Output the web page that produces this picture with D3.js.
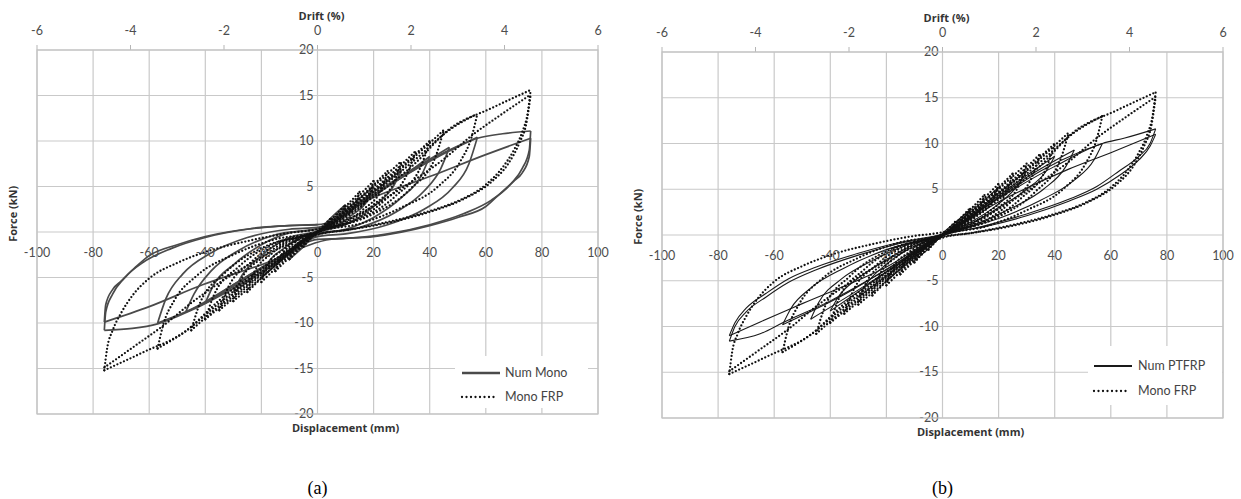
<!DOCTYPE html>
<html>
<head>
    <title>Force - displacement hysteresis</title>
    <style>
        body { margin: 0; background: #fff; }
        svg { display: block; }
        .tick { font: 12.5px Lato, "Open Sans", sans-serif; fill: #4d4d4d; }
        .title { font: bold 11px "Open Sans", Lato, sans-serif; fill: #333; }
        .caption { font: 18px "Liberation Serif", "DejaVu Serif", serif; fill: #000; }
        .legend { font: 12.5px Lato, "Open Sans", sans-serif; fill: #444; }
    </style>
</head>
<body>
<div id="chart"></div>
<script src="https://d3js.org/d3.v7.min.js"></script>
<script>
    // axis values
    const dispTicks = [-100, -80, -60, -40, -20, 0, 20, 40, 60, 80, 100];
    const forceTicks = [-20, -15, -10, -5, 0, 5, 10, 15, 20];
    const driftTicks = [-6, -4, -2, 0, 2, 4, 6];

    // experimental curve, same in both panels (displacement mm, force kN)
    const monoFRP = [
        [0, 0], [5, 1.6], [4, 0.9], [0, 0], [-5, -1.6], [-4, -0.9], [0, 0],
        [5, 1.4], [10, 3], [9, 2], [5, 0.8], [0, 0], [-5, -1.4], [-10, -3], [-9, -2], [-5, -0.8], [0, 0],
        [5, 1.3], [10, 2.8], [15, 4.4], [13.5, 3], [9, 1.5], [4, 0.4], [0, 0],
        [-5, -1.3], [-10, -2.8], [-15, -4.3], [-13.5, -2.9], [-9, -1.4], [-4, -0.3], [0, 0],
        [10, 2.6], [20, 5.6], [18, 3.8], [12, 2], [5, 0.6], [0, 0],
        [-10, -2.6], [-20, -5.5], [-18, -3.7], [-12, -1.9], [-5, -0.5], [0, 0],
        [10, 2.4], [18, 4.6], [25, 6.7], [23, 4.8], [16, 2.4], [7, 0.7], [0, 0],
        [-10, -2.4], [-18, -4.5], [-25, -6.6], [-23, -4.7], [-16, -2.3], [-7, -0.6], [0, 0],
        [10, 2.3], [20, 5], [30, 7.8], [27.5, 5.6], [20, 3], [10, 1], [0, 0],
        [-10, -2.3], [-20, -5], [-30, -7.6], [-27.5, -5.4], [-20, -2.9], [-10, -0.9], [0, 0],
        [12, 2.7], [25, 6], [35, 8.9], [32, 6.4], [24, 3.5], [12, 1.1], [0, 0],
        [-12, -2.7], [-25, -6], [-35, -8.6], [-32, -6.2], [-24, -3.4], [-12, -1], [0, 0],
        [12, 2.6], [25, 5.8], [40, 10], [37, 7.3], [28, 4], [15, 1.4], [0, 0],
        [-12, -2.6], [-25, -5.8], [-40, -9.6], [-37, -7], [-28, -3.8], [-15, -1.2], [0, 0],
        [15, 3.2], [30, 7], [45, 11.2], [42, 8.2], [33, 4.7], [18, 1.7], [0, 0],
        [-15, -3.2], [-30, -6.8], [-45, -10.8], [-42, -7.9], [-33, -4.5], [-18, -1.5], [0, 0],
        [15, 3], [35, 8], [47, 11.2], [57, 13], [55, 10.5], [51, 7.8], [43, 5], [30, 2.7], [15, 0.9], [0, 0],
        [-15, -3], [-35, -7.8], [-47, -10.9], [-57, -12.8], [-55, -10.2], [-51, -7.5], [-43, -4.8], [-30, -2.5], [-15, -0.8], [0, 0],
        [15, 2.8], [35, 7.6], [47, 11.3], [62, 13.6], [76, 15.6], [75, 13.2], [73, 11], [70, 9], [66, 7.1], [60, 5.2],
        [50, 3.4], [40, 2.3], [25, 1.1], [10, 0.2], [0, -0.3],
        [-15, -3], [-35, -7.5], [-47, -10.9], [-62, -13.2], [-76, -15.2], [-75, -12.8], [-73, -10.8], [-70, -8.9],
        [-66, -7], [-60, -5.1], [-50, -3.4], [-40, -2.2], [-25, -1], [-10, -0.1], [0, 0.3],
        [15, 2], [30, 4.8], [45, 8], [55, 10.6], [65, 12.8], [76, 15.1], [74.5, 12], [72, 9.8], [68, 7.5], [62, 5.5],
        [52, 3.6], [40, 2.2], [25, 1], [10, 0.2], [0, -0.2],
        [-15, -2], [-30, -4.6], [-45, -7.8], [-55, -10.3], [-65, -12.5], [-76, -14.9]
    ];

    // numerical curve, panel (a)
    const numMono = [
        [0, 0], [5, 1.6], [10, 3], [9, 2.2], [5, 0.8], [0, 0], [-5, -1.6], [-10, -3], [-9, -2.2], [-5, -0.8], [0, 0],
        [10, 2.4], [20, 5], [18, 3.6], [12, 1.8], [5, 0.4], [0, 0],
        [-10, -2.4], [-20, -5], [-18, -3.6], [-12, -1.8], [-5, -0.4], [0, 0],
        [10, 2.2], [20, 4.4], [30, 6.8], [27, 5], [20, 2.8], [10, 0.8], [0, -0.1],
        [-10, -2.2], [-20, -4.4], [-30, -6.6], [-27, -4.8], [-20, -2.6], [-10, -0.6], [0, 0.1],
        [15, 3], [30, 6], [40, 8.3], [37, 6.2], [30, 3.8], [20, 1.6], [10, 0.3], [0, -0.2],
        [-15, -3], [-30, -5.8], [-40, -7.8], [-37, -5.8], [-30, -3.6], [-20, -1.4], [-10, -0.1], [0, 0.3],
        [15, 3], [30, 6.2], [40, 8], [47, 9.3], [44, 7], [38, 4.5], [28, 2.2], [15, 0.5], [0, -0.3],
        [-15, -3], [-30, -6], [-40, -7.8], [-47, -8.8], [-44, -6.8], [-38, -4.3], [-28, -2], [-15, -0.3], [0, 0.4],
        [15, 3], [30, 6], [45, 8.6], [57, 10.4], [54, 7.5], [48, 4.8], [38, 2.5], [25, 0.8], [10, -0.2], [0, -0.5],
        [-15, -3], [-30, -5.8], [-45, -8.5], [-57, -10], [-54, -7.3], [-48, -4.6], [-38, -2.3], [-25, -0.6], [-10, 0.3], [0, 0.5],
        [15, 3.2], [30, 6], [45, 8.7], [57, 10.3], [66, 10.8], [76, 11.1], [75.5, 9], [73, 7], [69, 5.3], [62, 3.5],
        [52, 2], [40, 0.8], [25, -0.2], [10, -0.7], [0, -0.8],
        [-15, -3.5], [-30, -6.2], [-45, -8.6], [-57, -10.1], [-66, -10.6], [-76, -10.8], [-75.5, -8.8], [-73, -6.8],
        [-69, -5.1], [-62, -3.3], [-52, -1.8], [-40, -0.6], [-25, 0.3], [-10, 0.7], [0, 0.8],
        [20, 3.8], [41, 6.2], [60, 8.5], [76, 10.3], [75.5, 8.3], [73, 6.5], [70, 5.6], [65, 4.2], [60, 2.8],
        [50, 1.6], [40, 0.7], [20, -0.5], [5, -0.8],
        [-20, -3.6], [-41, -5.8], [-60, -8.2], [-76, -9.9], [-75.5, -8], [-73, -6.3], [-70, -5.4], [-65, -3.9],
        [-60, -2.6], [-50, -1.4], [-40, -0.5], [-20, 0.5], [0, 0.8]
    ];

    // numerical curve, panel (b)
    const numPTFRP = [
        [0, 0.2], [5, 1.5], [10, 2.8], [8, 2], [4, 0.9], [0, 0], [-5, -1.5], [-10, -2.8], [-8, -2], [-4, -0.9], [0, 0],
        [10, 2.5], [20, 5.2], [18, 4.2], [12, 2.4], [5, 0.8], [0, 0],
        [-10, -2.5], [-20, -5], [-18, -4], [-12, -2.2], [-5, -0.7], [0, 0],
        [15, 3.4], [30, 7], [27, 5.5], [20, 3.4], [10, 1.4], [0, 0],
        [-15, -3.3], [-30, -6.8], [-27, -5.3], [-20, -3.2], [-10, -1.2], [0, 0],
        [15, 3.2], [30, 6.5], [40, 8.6], [37, 7], [30, 5], [20, 3], [10, 1.2], [0, 0],
        [-15, -3], [-30, -6.2], [-40, -8.3], [-37, -6.7], [-30, -4.7], [-20, -2.7], [-10, -1], [0, 0],
        [15, 3], [30, 6.3], [47, 9.3], [44, 7.5], [36, 5], [25, 3], [12, 1.2], [0, 0],
        [-15, -3], [-30, -6], [-47, -9.2], [-44, -7.3], [-36, -4.8], [-25, -2.8], [-12, -1], [0, 0.1],
        [15, 3], [35, 7], [50, 9.2], [57, 10], [54, 8.2], [47, 6], [35, 3.8], [20, 1.8], [0, 0],
        [-15, -2.8], [-35, -6.5], [-50, -8.8], [-57, -9.8], [-54, -8], [-47, -5.8], [-35, -3.6], [-20, -1.6], [0, 0.1],
        [20, 4], [40, 7.5], [57, 10], [65, 10.6], [76, 11.6], [74, 10], [70, 8.6], [63, 7], [55, 5.3], [45, 3.9],
        [30, 2.3], [15, 1], [0, -0.1],
        [-20, -3.8], [-40, -7.2], [-57, -9.6], [-65, -10.8], [-76, -11.6], [-74, -10], [-70, -8.4], [-63, -6.8],
        [-55, -5.2], [-45, -3.8], [-30, -2.2], [-15, -0.9], [0, 0.1],
        [20, 3.6], [45, 7.2], [60, 9], [76, 11], [74, 9.7], [70, 8.2], [63, 6.5], [55, 5], [45, 3.7], [30, 2.1],
        [15, 0.9], [0, 0],
        [-20, -3.5], [-50, -7.5], [-65, -9.5], [-76, -11], [-74, -9.6], [-70, -8], [-63, -6.4], [-55, -4.8],
        [-45, -3.5], [-30, -2], [-15, -0.8], [0, 0]
    ];

    const panels = [
        { left: 37, right: 598, top: 50, bottom: 414, num: numMono, numName: "Num Mono",
          numColor: "#4a4a4a", numWidth: 1.7, caption: "(a)",
          legend: { x0: 455, y0: 356, x1: 588, y1: 408, row1: 373, row2: 397, lx: 462, tx: 505 } },
        { left: 662, right: 1223, top: 52, bottom: 418, num: numPTFRP, numName: "Num PTFRP",
          numColor: "#1a1a1a", numWidth: 1.1, caption: "(b)",
          legend: { x0: 1088, y0: 346, x1: 1222, y1: 405, row1: 366, row2: 391, lx: 1094, tx: 1138 } }
    ];

    // break a loading history into runs where displacement keeps one direction,
    // so each run can be smoothed without overshooting the reversal points
    function splitRuns(pts) {
        const runs = [];
        let cur = [pts[0]], dir = 0;
        for (let i = 1; i < pts.length; i++) {
            const dx = pts[i][0] - pts[i - 1][0];
            const s = Math.sign(dx);
            if (dir !== 0 && s !== 0 && s !== dir) {
                runs.push(cur);
                cur = [pts[i - 1]];
            }
            if (s !== 0) dir = s;
            cur.push(pts[i]);
        }
        runs.push(cur);
        return runs.map(r => r[0][0] > r[r.length - 1][0] ? r.slice().reverse() : r);
    }

    const svg = d3.select("#chart").append("svg")
        .attr("width", 1241)
        .attr("height", 499);

    svg.append("rect").attr("width", 1241).attr("height", 499).attr("fill", "#fff");

    panels.forEach(p => drawPanel(p));

    function drawPanel(p) {
        const g = svg.append("g");
        const x = d3.scaleLinear().domain([-100, 100]).range([p.left, p.right]);
        const y = d3.scaleLinear().domain([-20, 20]).range([p.bottom, p.top]);
        const drift = d3.scaleLinear().domain([-6, 6]).range([p.left, p.right]);

        // grid
        g.selectAll(".vgrid").data(dispTicks).join("line")
            .attr("x1", d => x(d)).attr("x2", d => x(d))
            .attr("y1", p.top).attr("y2", p.bottom)
            .attr("stroke", "#c9c9c9").attr("stroke-width", 1.2);
        g.selectAll(".hgrid").data(forceTicks).join("line")
            .attr("x1", p.left).attr("x2", p.right)
            .attr("y1", d => y(d)).attr("y2", d => y(d))
            .attr("stroke", "#c9c9c9").attr("stroke-width", 1.2);

        // drift ticks on top border
        g.selectAll(".dtick").data(driftTicks).join("line")
            .attr("x1", d => drift(d)).attr("x2", d => drift(d))
            .attr("y1", p.top - 5).attr("y2", p.top)
            .attr("stroke", "#b5b5b5").attr("stroke-width", 1);

        // curves
        const line = d3.line()
            .x(d => x(d[0]))
            .y(d => y(d[1]))
            .curve(d3.curveMonotoneX);

        g.append("g").selectAll("path").data(splitRuns(p.num)).join("path")
            .attr("d", line)
            .attr("fill", "none")
            .attr("stroke", p.numColor)
            .attr("stroke-width", p.numWidth)
            .attr("stroke-linejoin", "round");

        g.append("g").selectAll("path").data(splitRuns(monoFRP)).join("path")
            .attr("d", line)
            .attr("fill", "none")
            .attr("stroke", "#111")
            .attr("stroke-width", 2.3)
            .attr("stroke-linecap", "round")
            .attr("stroke-dasharray", "0 3.6");

        // tick labels
        g.selectAll(".xl").data(dispTicks).join("text")
            .attr("class", "tick")
            .attr("x", d => x(d)).attr("y", y(0) + 25)
            .attr("text-anchor", "middle")
            .text(d => d);
        g.selectAll(".yl").data(forceTicks.filter(d => d !== 0)).join("text")
            .attr("class", "tick")
            .attr("x", x(0) - 4).attr("y", d => y(d) + 4)
            .attr("text-anchor", "end")
            .text(d => d);
        g.selectAll(".dl").data(driftTicks).join("text")
            .attr("class", "tick")
            .attr("x", d => drift(d)).attr("y", p.top - 15)
            .attr("text-anchor", "middle")
            .text(d => d);

        // titles
        g.append("text").attr("class", "title")
            .attr("x", x(0) + 4).attr("y", p.top - 30)
            .attr("text-anchor", "middle").text("Drift (%)");
        g.append("text").attr("class", "title")
            .attr("x", x(10)).attr("y", p.bottom + 18)
            .attr("text-anchor", "middle").text("Displacement (mm)");
        g.append("text").attr("class", "title")
            .attr("transform", `translate(${p.left - 20},${y(2)}) rotate(-90)`)
            .attr("text-anchor", "middle").text("Force (kN)");

        // legend
        const L = p.legend;
        g.append("rect")
            .attr("x", L.x0).attr("y", L.y0)
            .attr("width", L.x1 - L.x0).attr("height", L.y1 - L.y0)
            .attr("fill", "#fff");
        g.append("line")
            .attr("x1", L.lx).attr("x2", L.lx + 38)
            .attr("y1", L.row1).attr("y2", L.row1)
            .attr("stroke", p.numColor).attr("stroke-width", p.numWidth + 0.8);
        g.append("text").attr("class", "legend")
            .attr("x", L.tx).attr("y", L.row1 + 4).text(p.numName);
        g.append("line")
            .attr("x1", L.lx).attr("x2", L.lx + 36)
            .attr("y1", L.row2).attr("y2", L.row2)
            .attr("stroke", "#111").attr("stroke-width", 2.3)
            .attr("stroke-linecap", "round").attr("stroke-dasharray", "0 4.5");
        g.append("text").attr("class", "legend")
            .attr("x", L.tx).attr("y", L.row2 + 4).text("Mono FRP");

        // border
        g.append("rect")
            .attr("x", p.left).attr("y", p.top)
            .attr("width", p.right - p.left).attr("height", p.bottom - p.top)
            .attr("fill", "none").attr("stroke", "#c4c4c4").attr("stroke-width", 1.2);

        // caption
        svg.append("text").attr("class", "caption")
            .attr("x", (p.left + p.right) / 2).attr("y", 494)
            .attr("text-anchor", "middle").text(p.caption);
    }
</script>
</body>
</html>
